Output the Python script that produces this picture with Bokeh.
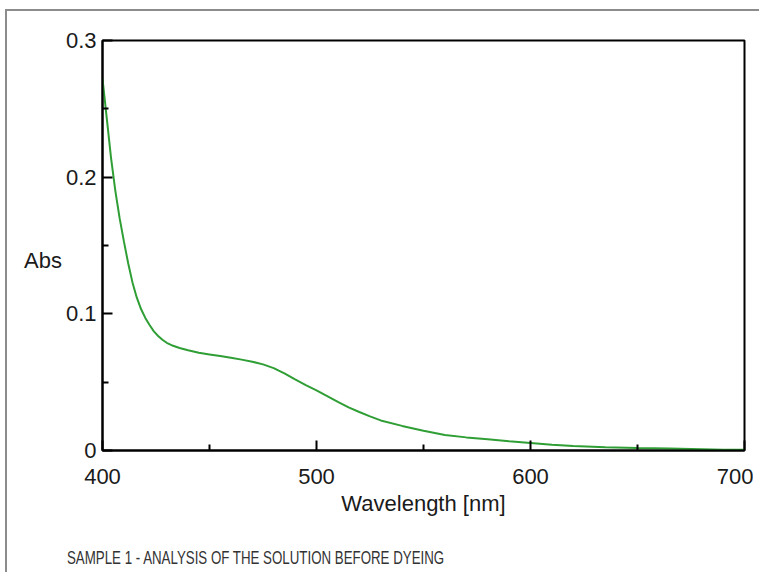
from bokeh.plotting import figure
from bokeh.models import Range1d, FixedTicker, CustomJSTickFormatter, Div
from bokeh.layouts import column
from bokeh.embed import file_html
from bokeh.resources import INLINE

# ---- data ----
wavelength = [400, 402, 404, 406, 408, 410, 412, 414, 416, 418, 420, 422, 424, 426,
              428, 430, 433, 436, 440, 445, 450, 455, 460, 465, 470, 475, 480, 485,
              490, 495, 500, 505, 510, 515, 520, 525, 530, 540, 550, 560, 570, 580,
              590, 600, 610, 620, 635, 650, 665, 680, 690, 700]
absorbance = [0.272, 0.243, 0.214, 0.190, 0.170, 0.153, 0.137, 0.123, 0.112, 0.1035,
              0.0970, 0.0918, 0.0872, 0.0838, 0.0810, 0.0788, 0.0766, 0.0750, 0.0733,
              0.0715, 0.0703, 0.0691, 0.0679, 0.0665, 0.0650, 0.0630, 0.0603, 0.0565,
              0.0520, 0.0478, 0.0440, 0.0398, 0.0356, 0.0315, 0.0282, 0.0250, 0.0220,
              0.0180, 0.0145, 0.0113, 0.0096, 0.0082, 0.0068, 0.0055, 0.0042, 0.0033,
              0.0024, 0.0019, 0.0015, 0.0009, 0.0005, 0.0005]

x_major_ticks = [400, 500, 600, 700]
x_minor_ticks = [450, 550, 650]
y_major_ticks = [0, 0.1, 0.2, 0.3]
y_minor_ticks = [0.05, 0.15, 0.25]

x_title = "Wavelength [nm]"
y_title = "Abs"
caption = "SAMPLE 1 - ANALYSIS OF THE SOLUTION BEFORE DYEING"

FONT = "Liberation Sans"
TXT = "#1a1a1a"

p = figure(width=746, height=509, output_backend="svg", toolbar_location=None,
           x_range=Range1d(400, 700), y_range=Range1d(0, 0.3),
           min_border_left=95, min_border_right=9, min_border_top=29,
           min_border_bottom=70)

p.line(wavelength, absorbance, line_color="#2f9e35", line_width=2)

p.grid.visible = False
p.outline_line_color = "black"
p.outline_line_width = 2
p.background_fill_color = "white"
p.border_fill_color = "white"

p.xaxis.ticker = FixedTicker(ticks=x_major_ticks, minor_ticks=x_minor_ticks)
p.yaxis.ticker = FixedTicker(ticks=y_major_ticks, minor_ticks=y_minor_ticks)
p.yaxis.formatter = CustomJSTickFormatter(code="return String(Number(tick.toFixed(2)));")

for ax in (p.xaxis[0], p.yaxis[0]):
    ax.axis_line_color = "black"
    ax.axis_line_width = 2
    ax.major_tick_in = 10
    ax.major_tick_out = 0
    ax.minor_tick_in = 6
    ax.minor_tick_out = 0
    ax.major_tick_line_color = "black"
    ax.minor_tick_line_color = "black"
    ax.major_tick_line_width = 2
    ax.minor_tick_line_width = 2
    ax.major_label_text_font = FONT
    ax.major_label_text_font_size = "22px"
    ax.major_label_text_color = TXT
    ax.axis_label_text_font = FONT
    ax.axis_label_text_font_size = "22px"
    ax.axis_label_text_font_style = "normal"
    ax.axis_label_text_color = TXT

p.yaxis.major_label_standoff = 6
p.xaxis.major_label_standoff = 18

p.xaxis.axis_label = x_title
p.xaxis.axis_label_standoff = 4

p.yaxis.axis_label = "\n" + y_title
p.yaxis.axis_label_orientation = "horizontal"
p.yaxis.axis_label_standoff = 1

cap = Div(text=caption, width=600, height=28, margin=(24, 0, 0, 60),
          styles={"font-family": "'Liberation Sans'", "font-size": "19px",
                  "color": "#333333", "white-space": "nowrap",
                  "transform": "scaleX(0.70)", "transform-origin": "0 0"})

layout = column(p, cap, spacing=0,
                styles={"border-top": "2px solid #8c8c8c",
                        "border-left": "2px solid #8c8c8c",
                        "margin-left": "5px", "margin-top": "9px",
                        "width": "754px"})

open("out.html", "w").write(file_html(layout, INLINE))
